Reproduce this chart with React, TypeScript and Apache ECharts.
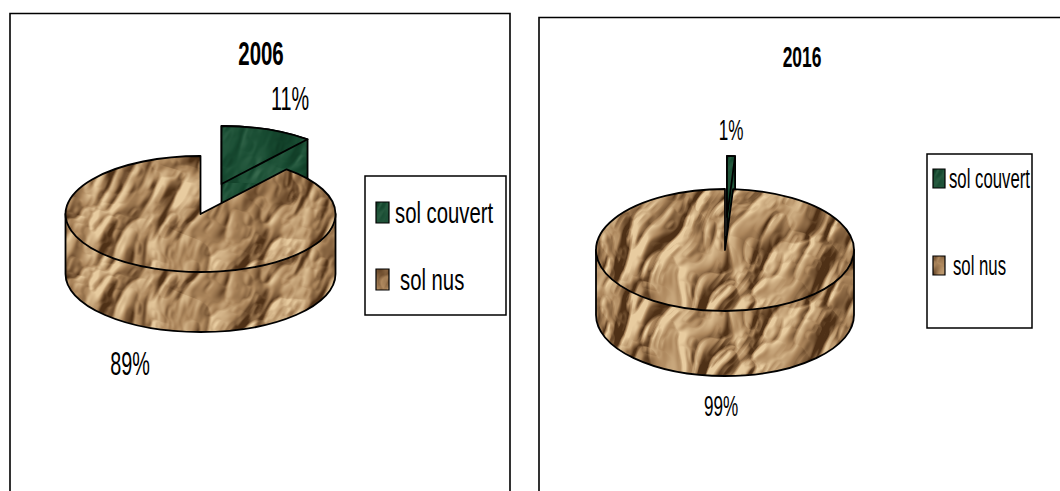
import React, { useEffect, useRef } from "react";
import * as echarts from "echarts";

const categories = ["sol couvert", "sol nus"];
const values2006 = [11, 89];
const values2016 = [1, 99];
const titles = ["2006", "2016"];

const FONT = "'Liberation Sans',Arial,sans-serif";

const hash = (x: number, y: number, s: number) => {
  const v = Math.sin(x * 127.1 + y * 311.7 + s * 74.7) * 43758.5453;
  return v - Math.floor(v);
};
const vnoise = (x: number, y: number, s: number) => {
  const xi = Math.floor(x), yi = Math.floor(y);
  let fx = x - xi, fy = y - yi;
  fx = fx * fx * (3 - 2 * fx);
  fy = fy * fy * (3 - 2 * fy);
  const a = hash(xi, yi, s), b = hash(xi + 1, yi, s), c = hash(xi, yi + 1, s), d = hash(xi + 1, yi + 1, s);
  return a + (b - a) * fx + (c - a) * fy + (a - b - c + d) * fx * fy;
};

function crumple(x: number, y: number, s: number) {
  const wx = x + 16 * vnoise(x / 44, y / 44, s + 3);
  const wy = y + 16 * vnoise(x / 44, y / 44, s + 4);
  const u = wx * 0.9 + wy * 0.42;
  const v = -wx * 0.42 + wy * 0.9;
  let h = 0;
  h += 1.5 * Math.abs(2 * vnoise(u / 30, v / 58, s) - 1);
  h += 0.6 * Math.abs(2 * vnoise(u / 13, v / 26, s + 1) - 1);
  h += 0.16 * Math.abs(2 * vnoise(u / 5, v / 10, s + 2) - 1);
  return h;
}

function makeTexture(w: number, h: number, seed: number, dark: number[], mid: number[], light: number[], gain: number) {
  const c = document.createElement("canvas");
  c.width = w;
  c.height = h;
  const g = c.getContext("2d")!;
  const img = g.createImageData(w, h);
  for (let y = 0; y < h; y++) {
    for (let x = 0; x < w; x++) {
      const d = crumple(x + 1.5, y + 1, seed) - crumple(x - 1.5, y - 1, seed);
      const tone = (vnoise(x / 38, y / 38, seed + 9) - 0.5) * 0.55;
      const t = Math.max(-1, Math.min(1, d * gain + tone));
      const to = t > 0 ? light : dark;
      const a = Math.abs(t);
      const i = (y * w + x) * 4;
      for (let k = 0; k < 3; k++) img.data[i + k] = mid[k] + (to[k] - mid[k]) * a;
      img.data[i + 3] = 255;
    }
  }
  g.putImageData(img, 0, 0);
  return c;
}

type Pie = {
  cx: number; cy: number; rx: number; ry: number; depth: number;
  explodeX: number; explodeY: number;
  labels: number[][]; labelSize: number; labelScale: number;
};

const pie2006: Pie = {
  cx: 200.5, cy: 214, rx: 135, ry: 58, depth: 60, explodeX: 21, explodeY: -30,
  labels: [[290, 98], [130, 363]], labelSize: 33, labelScale: 0.6,
};
const pie2016: Pie = {
  cx: 725, cy: 250, rx: 129, ry: 61, depth: 65, explodeX: 2, explodeY: -33,
  labels: [[731, 130], [721, 406]], labelSize: 30, labelScale: 0.57,
};

const pt = (p: Pie, a: number, dx = 0, dy = 0) => [
  p.cx + dx + p.rx * Math.sin(a),
  p.cy + dy - p.ry * Math.cos(a),
];
const arcTo = (p: Pie, from: number, to: number, dx: number, dy: number) => {
  const sweep = to > from ? 1 : 0;
  const large = Math.abs(to - from) > Math.PI ? 1 : 0;
  const e = pt(p, to, dx, dy);
  return `A${p.rx} ${p.ry} 0 ${large} ${sweep} ${e[0]} ${e[1]}`;
};

function sliceSeries(p: Pie, values: number[], idx: number, fill: any) {
  const total = values.reduce((a, b) => a + b, 0);
  const before = values.slice(0, idx).reduce((a, b) => a + b, 0);
  const TAU = Math.PI * 2;
  return {
    type: "custom",
    name: categories[idx],
    coordinateSystem: "none",
    silent: true,
    data: [values[idx]],
    renderItem: (_: any, api: any) => {
      const v = api.value(0) as number;
      const a0 = (before / total) * TAU;
      const a1 = ((before + v) / total) * TAU;
      const ex = idx === 0 ? p.explodeX : 0;
      const ey = idx === 0 ? p.explodeY : 0;
      const stroke = { stroke: "#000", lineWidth: 1.8, lineJoin: "round" };
      // textures are anchored on the slice, the side wall repeats the top shifted down
      const ox = idx === 0 ? p.cx + ex : p.cx - p.rx - 5;
      const oy = idx === 0 ? p.cy + ey - p.ry - 3 : p.cy - p.ry - 8;
      const dx = ex - ox;
      const dy = ey - oy;
      const children: any[] = [];
      const wy = dy - p.depth;
      let wall: string;
      if (idx === 0) {
        const s = pt(p, a0, dx, wy), e = pt(p, a1, dx, wy);
        const ax = p.cx + dx, ay = p.cy + wy;
        wall = `M${s[0]} ${s[1]}${arcTo(p, a0, a1, dx, wy)}L${e[0]} ${e[1] + p.depth}L${ax} ${ay + p.depth}Z`;
      } else {
        const w0 = Math.max(a0, Math.PI / 2), w1 = Math.min(a1, (3 * Math.PI) / 2);
        const s = pt(p, w0, dx, wy), e = pt(p, w1, dx, wy);
        const sb = pt(p, w0, dx, wy + p.depth);
        wall = `M${s[0]} ${s[1]}L${sb[0]} ${sb[1]}${arcTo(p, w0, w1, dx, wy + p.depth)}L${e[0]} ${e[1]}Z`;
      }
      children.push({
        type: "group", x: ox, y: oy + p.depth,
        children: [{ type: "path", shape: { pathData: wall }, style: { fill, ...stroke } }],
      });
      const s = pt(p, a0, dx, dy);
      const top = `M${p.cx + dx} ${p.cy + dy}L${s[0]} ${s[1]}${arcTo(p, a0, a1, dx, dy)}Z`;
      children.push({
        type: "group", x: ox, y: oy,
        children: [{ type: "path", shape: { pathData: top }, style: { fill, ...stroke } }],
      });
      children.push({
        type: "text",
        x: p.labels[idx][0], y: p.labels[idx][1], scaleX: p.labelScale,
        style: {
          x: 0, y: 0, text: `${v}%`,
          fill: "#000", font: `${p.labelSize}px ${FONT}`, align: "center", verticalAlign: "middle",
        },
      });
      return { type: "group", children };
    },
  };
}

const squeezed = (text: string, x: number, y: number, size: number, scaleX: number, align: string, bold = false) => ({
  type: "text", x, y, scaleX,
  style: {
    x: 0, y: 0, text, fill: "#000", align, verticalAlign: "middle",
    font: `${bold ? "bold " : ""}${size}px ${FONT}`,
  },
});

function legendBox(
  x: number, y: number, w: number, h: number, iconX: number, iconW: number, iconH: number,
  rows: number[], textX: number[], size: number, scaleX: number, fills: any[],
) {
  const out: any[] = [
    { type: "rect", shape: { x, y, width: w, height: h }, style: { fill: "#fff", stroke: "#000", lineWidth: 1.5 } },
  ];
  categories.forEach((c, i) => {
    out.push({
      type: "rect", shape: { x: 0, y: 0, width: iconW, height: iconH }, x: iconX, y: rows[i] - iconH / 2,
      style: { fill: fills[i], stroke: "#000", lineWidth: 1.2 },
    });
    out.push(squeezed(c, textX[i], rows[i], size, scaleX, "left"));
  });
  return out;
}

export default function App() {
  const ref = useRef<HTMLDivElement>(null);
  useEffect(() => {
    const tile = (image: HTMLCanvasElement) => ({
      image, imageWidth: image.width, imageHeight: image.height, repeat: "repeat",
    });
    const brownA = tile(makeTexture(300, 220, 7, [78, 48, 22], [172, 134, 92], [232, 204, 160], 3.0));
    const brownB = tile(makeTexture(300, 220, 13, [78, 48, 22], [172, 134, 92], [232, 204, 160], 3.0));
    const green = tile(makeTexture(130, 170, 21, [12, 52, 32], [24, 76, 50], [62, 112, 84], 1.8));

    const chart = echarts.init(ref.current!, null, { renderer: "svg" });
    chart.setOption({
      animation: false,
      backgroundColor: "#fff",
      graphic: [
        { type: "rect", z: -1, shape: { x: 10, y: 13.5, width: 500, height: 600 }, style: { fill: "#fff", stroke: "#000", lineWidth: 1.6 } },
        { type: "rect", z: -1, shape: { x: 539, y: 17.5, width: 700, height: 600 }, style: { fill: "#fff", stroke: "#000", lineWidth: 1.6 } },
        squeezed(titles[0], 261, 54, 33, 0.62, "center", true),
        squeezed(titles[1], 802, 57, 30, 0.58, "center", true),
        ...legendBox(365, 176, 141, 139, 376, 13, 21, [212.5, 279.5], [395, 400], 29, 0.7, [green, brownA]),
        ...legendBox(927, 154, 105, 174, 933, 12, 19, [178.5, 265.5], [949, 953], 27, 0.62, [green, brownB]),
      ],
      series: [
        sliceSeries(pie2006, values2006, 0, green),
        sliceSeries(pie2006, values2006, 1, brownA),
        sliceSeries(pie2016, values2016, 0, green),
        sliceSeries(pie2016, values2016, 1, brownB),
      ],
    });
    return () => chart.dispose();
  }, []);
  return <div ref={ref} style={{ position: "absolute", left: 0, top: 0, width: 1060, height: 491 }} />;
}
